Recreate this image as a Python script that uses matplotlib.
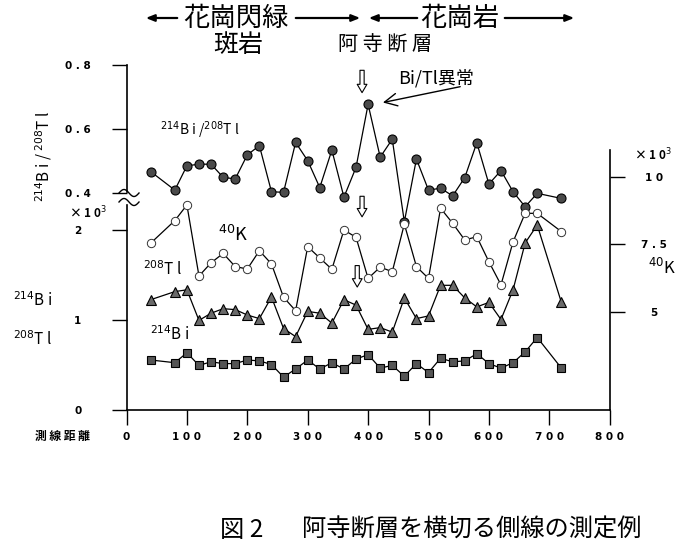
import numpy as np
import matplotlib
matplotlib.use("Agg")
import matplotlib.pyplot as plt
from matplotlib.lines import Line2D
from matplotlib.ticker import FuncFormatter

plt.rcParams['font.family'] = ['Noto Sans CJK JP', 'DejaVu Sans']
plt.rcParams['mathtext.fontset'] = 'dejavusans'

W, H = 684, 552

# distance along the survey line (m)
dist = [40, 80, 100, 120, 140, 160, 180, 200, 220, 240, 260, 280, 300, 320,
        340, 360, 380, 400, 420, 440, 460, 480, 500, 520, 540, 560, 580, 600,
        620, 640, 660, 680, 720]

# 214Bi / 208Tl ratio
ratio = [0.467, 0.409, 0.485, 0.490, 0.490, 0.449, 0.444, 0.519, 0.548, 0.404,
         0.402, 0.558, 0.501, 0.417, 0.534, 0.387, 0.480, 0.677, 0.512, 0.568,
         0.310, 0.506, 0.409, 0.415, 0.391, 0.448, 0.557, 0.428, 0.470, 0.404,
         0.357, 0.399, 0.383]

# 40K counts (x10^3)
k40 = [7.54, 8.38, 8.96, 6.32, 6.81, 7.16, 6.67, 6.58, 7.26, 6.77,
       5.53, 5.03, 7.41, 6.99, 6.57, 8.03, 7.76, 6.23, 6.65, 6.48,
       8.25, 6.67, 6.23, 8.84, 8.28, 7.66, 7.78, 6.85, 5.99, 7.59,
       8.65, 8.65, 7.97]

# 208Tl counts (x10^3)
tl208 = [1.22, 1.31, 1.33, 0.99, 1.07, 1.12, 1.11, 1.05, 1.01, 1.25,
         0.90, 0.81, 1.09, 1.07, 0.96, 1.22, 1.16, 0.89, 0.91, 0.86,
         1.24, 1.01, 1.04, 1.38, 1.38, 1.24, 1.14, 1.19, 1.00, 1.33,
         1.85, 2.05, 1.19]

# 214Bi counts (x10^3)
bi214 = [0.55, 0.52, 0.63, 0.49, 0.53, 0.51, 0.51, 0.55, 0.54, 0.50,
         0.36, 0.45, 0.55, 0.45, 0.52, 0.45, 0.56, 0.61, 0.46, 0.49,
         0.37, 0.51, 0.41, 0.57, 0.53, 0.54, 0.62, 0.51, 0.46, 0.52,
         0.64, 0.80, 0.46]

x_ticks = [0, 100, 200, 300, 400, 500, 600, 700, 800]


def spaced(v, p=None):
    return ' '.join('%g' % v)


def put(x, y, s, **kw):
    # place text by pixel position, measured from the top left
    kw.setdefault('ha', 'center')
    kw.setdefault('va', 'center')
    return fig.text(x / W, 1 - y / H, s, **kw)


def fig_line(xs, ys, **kw):
    xs = np.asarray(xs, float)
    ys = np.asarray(ys, float)
    fig.add_artist(Line2D(xs / W, 1 - ys / H, transform=fig.transFigure,
                          color='black', **kw))


def style_labels(labels):
    for lab in labels:
        lab.set_ha('center')
        lab.set_fontweight('bold')
        lab.set_family('DejaVu Sans')


fig = plt.figure(figsize=(W / 100, H / 100), dpi=100)
rect = [126.5 / W, 1 - 409.5 / H, (609.7 - 126.5) / W, (409.5 - 65) / H]

ax = fig.add_axes(rect)
axr = fig.add_axes(rect, sharex=ax)
axk = fig.add_axes(rect, sharex=ax)
for a in (axr, axk):
    a.patch.set_visible(False)

tick_kw = dict(direction='out', length=11, width=1.0, labelsize=7.5)

# counts axis (208Tl, 214Bi)
ax.set_xlim(0, 800)
ax.set_ylim(0, 3.828)
for s in ('top', 'right'):
    ax.spines[s].set_visible(False)
ax.spines['left'].set_bounds(0, 2.27)
ax.spines['bottom'].set_linewidth(1.2)
ax.spines['left'].set_linewidth(1.2)
ax.set_xticks(x_ticks)
ax.xaxis.set_major_formatter(FuncFormatter(spaced))
ax.set_yticks([0, 1, 2])
ax.yaxis.set_major_formatter(FuncFormatter(spaced))
ax.tick_params(axis='x', pad=5, **tick_kw)
ax.tick_params(axis='y', pad=24, **tick_kw)
style_labels(ax.get_xticklabels() + ax.get_yticklabels())

# ratio axis
axr.set_ylim(-0.2766, 0.8)
for s in ('top', 'right', 'bottom'):
    axr.spines[s].set_visible(False)
axr.spines['left'].set_bounds(0.403, 0.8)
axr.spines['left'].set_linewidth(1.2)
axr.set_yticks([0.4, 0.6, 0.8])
axr.yaxis.set_major_formatter(FuncFormatter(lambda v, p: ' '.join('%.1f' % v)))
axr.tick_params(axis='y', pad=24, **tick_kw)
axr.tick_params(axis='x', bottom=False, labelbottom=False)
style_labels(axr.get_yticklabels())

# 40K axis on the right
axk.set_ylim(1.357, 14.164)
for s in ('top', 'left', 'bottom'):
    axk.spines[s].set_visible(False)
axk.spines['right'].set_bounds(1.357, 11.0)
axk.spines['right'].set_linewidth(1.2)
axk.yaxis.tick_right()
axk.set_yticks([5, 7.5, 10])
axk.yaxis.set_major_formatter(FuncFormatter(spaced))
axk.tick_params(axis='y', pad=21, **tick_kw)
axk.tick_params(axis='x', bottom=False, labelbottom=False)
style_labels(axk.get_yticklabels())

# series
axr.plot(dist, ratio, color='black', lw=0.9, marker='o', ms=6.5,
         mfc='#4a4a4a', mec='black', mew=0.8)
axk.plot(dist, k40, color='black', lw=0.9, marker='o', ms=6,
         mfc='white', mec='#333333', mew=0.7)
ax.plot(dist, tl208, color='black', lw=0.9, marker='^', ms=7.5,
        mfc='#6a6a6a', mec='black', mew=0.8)
ax.plot(dist, bi214, color='black', lw=0.9, marker='s', ms=6,
        mfc='#555555', mec='black', mew=0.8)

# hollow arrows marking the fault
hollow = dict(arrowstyle='simple,head_width=0.7,head_length=0.6,tail_width=0.3',
              fc='white', ec='black', lw=0.8)
ax.annotate('', xy=(390, 3.49), xytext=(390, 3.80), arrowprops=hollow)
ax.annotate('', xy=(390, 2.11), xytext=(390, 2.40), arrowprops=hollow)
ax.annotate('', xy=(382, 1.33), xytext=(382, 1.63), arrowprops=hollow)

# Bi/Tl anomaly note
axr.annotate('', xy=(420, 0.681), xytext=(557, 0.734),
             arrowprops=dict(arrowstyle='->,head_length=0.9,head_width=0.45',
                             color='black', lw=1.0))
put(398, 78, 'Bi/Tl異常', ha='left', fontsize=13)

# axis break on the left spine
t = np.linspace(0, 1, 40)
for y0 in (193, 202):
    fig_line(119 + 20 * t, y0 - 3.5 * np.sin(2 * np.pi * t), lw=1.0)

# labels
put(44, 157, r'$^{214}$B i / $^{208}$T l', rotation=90, fontsize=11)
put(200, 130, r'$^{214}$B i /$^{208}$T l', fontsize=10)
put(233, 235, r'$^{40}$K', fontsize=13)
put(163, 270, r'$^{208}$T l', fontsize=11)
put(170, 335, r'$^{214}$B i', fontsize=11)
put(33, 301, r'$^{214}$B i', fontsize=11)
put(33, 340, r'$^{208}$T l', fontsize=11)
put(88, 213, r'× 1 0$^{3}$', fontsize=8.5, fontweight='bold')
put(653, 155, r'× 1 0$^{3}$', fontsize=8.5, fontweight='bold')
put(662, 268, r'$^{40}$K', fontsize=12)
put(62, 436, '測 線 距 離', fontsize=8.5, fontweight='bold')

# rock type headers
put(236, 18, '花崗閃緑', fontsize=19)
put(238, 45, '斑岩', fontsize=18)
put(460, 18, '花崗岩', fontsize=19)
put(385, 45, '阿 寺 断 層', fontsize=14.5)
head = dict(arrowstyle='-|>,head_length=0.5,head_width=0.2', color='black', lw=1.6)
for x0, x1 in ((180, 143), (293, 363), (420, 366), (502, 577)):
    ax.annotate('', xy=(x1, H - 18), xytext=(x0, H - 18),
                xycoords='figure pixels', textcoords='figure pixels',
                arrowprops=head, annotation_clip=False)

# caption
put(242, 530, '図 2', fontsize=17.5)
put(472, 530, '阿寺断層を横切る側線の測定例', fontsize=17.5)

fig.savefig('out.png', dpi=100)
